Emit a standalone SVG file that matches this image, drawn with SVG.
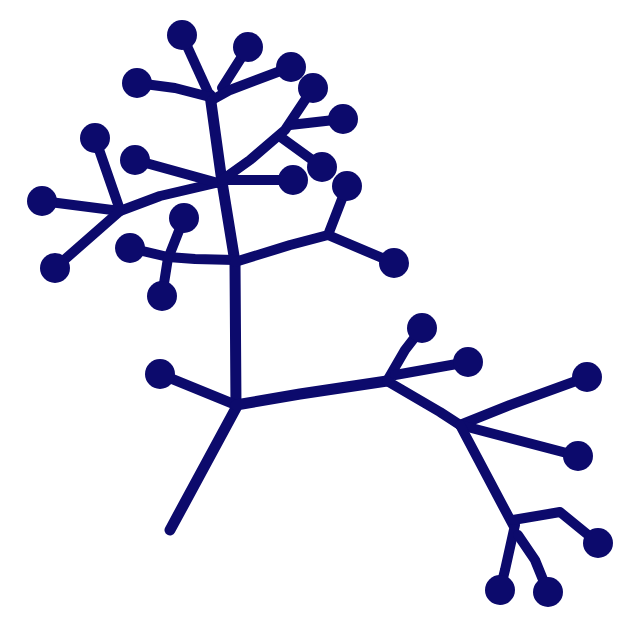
<svg xmlns="http://www.w3.org/2000/svg" width="640" height="640" viewBox="0 0 640 640">
<style>
.e{fill:none;stroke:#0c0a6c;stroke-width:10;stroke-linecap:round;stroke-linejoin:round}
.t{stroke-width:11}
.n{fill:#0c0a6c}
</style>
<rect width="640" height="640" fill="#fff"/>
<g id="connectors">
<path class="e t" d="M170,530 L236,408 L235,262 L222,182 L210,95"/>
<path class="e" d="M236,405 L160,374"/>
<path class="e t" d="M236,405 L300,394 L387,381"/>
<path class="e" d="M387,381 L405,350 L422,328"/>
<path class="e" d="M395,375 L468,362"/>
<path class="e" d="M387,381 L440,412 L460,425"/>
<path class="e" d="M460,425 L510,405 L587,377"/>
<path class="e" d="M460,425 L578,456"/>
<path class="e" d="M460,425 L513,525"/>
<path class="e" d="M515,525 L505,570 L500,590"/>
<path class="e" d="M518,535 L535,560 L548,592"/>
<path class="e" d="M513,520 L560,512 L598,543"/>
<path class="e" d="M235,260 L195,259 L168,257 L130,248"/>
<path class="e" d="M169,256 L184,218"/>
<path class="e" d="M168,258 L162,296"/>
<path class="e" d="M235,262 L290,245 L328,235 L347,186"/>
<path class="e" d="M328,235 L394,263"/>
<path class="e" d="M220,182 L160,196 L120,211 L42,201"/>
<path class="e" d="M120,210 L95,138"/>
<path class="e" d="M120,211 L55,268"/>
<path class="e" d="M218,183 L135,160"/>
<path class="e" d="M222,180 L293,180"/>
<path class="e" d="M222,180 L250,160 L285,130 L313,88"/>
<path class="e" d="M290,125 L343,119"/>
<path class="e" d="M282,138 L322,167"/>
<path class="e" d="M182,35 L208,92"/>
<path class="e" d="M248,47 L222,88"/>
<path class="e" d="M137,83 L175,88 L210,97"/>
<path class="e" d="M291,67 L230,90 L212,100"/>
</g>
<g id="leaf1"><circle class="n" cx="182" cy="35" r="15"/></g>
<g id="leaf2"><circle class="n" cx="248" cy="47" r="15"/></g>
<g id="leaf3"><circle class="n" cx="291" cy="67" r="15"/></g>
<g id="leaf4"><circle class="n" cx="137" cy="83" r="15"/></g>
<g id="leaf5"><circle class="n" cx="313" cy="88" r="15"/></g>
<g id="leaf6"><circle class="n" cx="343" cy="119" r="15"/></g>
<g id="leaf7"><circle class="n" cx="95" cy="138" r="15"/></g>
<g id="leaf8"><circle class="n" cx="135" cy="160" r="15"/></g>
<g id="leaf9"><circle class="n" cx="322" cy="167" r="15"/></g>
<g id="leaf10"><circle class="n" cx="293" cy="180" r="15"/></g>
<g id="leaf11"><circle class="n" cx="347" cy="186" r="15"/></g>
<g id="leaf12"><circle class="n" cx="42" cy="201" r="15"/></g>
<g id="leaf13"><circle class="n" cx="184" cy="218" r="15"/></g>
<g id="leaf14"><circle class="n" cx="130" cy="248" r="15"/></g>
<g id="leaf15"><circle class="n" cx="394" cy="263" r="15"/></g>
<g id="leaf16"><circle class="n" cx="55" cy="268" r="15"/></g>
<g id="leaf17"><circle class="n" cx="162" cy="296" r="15"/></g>
<g id="leaf18"><circle class="n" cx="422" cy="328" r="15"/></g>
<g id="leaf19"><circle class="n" cx="468" cy="362" r="15"/></g>
<g id="leaf20"><circle class="n" cx="160" cy="374" r="15"/></g>
<g id="leaf21"><circle class="n" cx="587" cy="377" r="15"/></g>
<g id="leaf22"><circle class="n" cx="578" cy="456" r="15"/></g>
<g id="leaf23"><circle class="n" cx="598" cy="543" r="15"/></g>
<g id="leaf24"><circle class="n" cx="500" cy="590" r="15"/></g>
<g id="leaf25"><circle class="n" cx="548" cy="592" r="15"/></g>
</svg>
